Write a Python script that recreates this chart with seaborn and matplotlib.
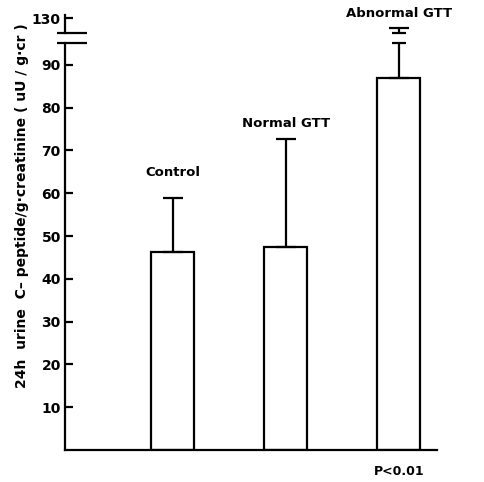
import numpy as np
import pandas as pd
import matplotlib
matplotlib.use("Agg")
import matplotlib.pyplot as plt
import seaborn as sns

# ---- data ----
groups = ["Control", "Normal GTT", "Abnormal GTT"]
means = [46.2, 47.4, 86.8]
err_top = [58.8, 72.6, 127.7]          # upper end of the error bars
lower_ticks = [10, 20, 30, 40, 50, 60, 70, 80, 90]
upper_ticks = [130]
p_text = "P<0.01"
ylabel = "24h  urine  C\u2013 peptide/g\u00b7creatinine ( uU / g\u00b7cr )"

# ---- style ----
sns.set_theme(style="white")
plt.rcParams["font.family"] = ["DejaVu Sans"]
plt.rcParams["font.weight"] = "bold"
LW = 1.6
label_offsets = [14, 7, 6]  # points above the error caps

df = pd.DataFrame({"group": groups, "mean": means, "top": err_top})

fig = plt.figure(figsize=(4.85, 4.82), dpi=100)
W, H = 485.0, 482.0
ax_left, ax_right = 65 / W, 437 / W
ax = fig.add_axes([ax_left, 1 - 450 / H, ax_right - ax_left, (450 - 43.4) / H])
ax_up = fig.add_axes([ax_left, 1 - 33 / H, ax_right - ax_left, (33 - 15) / H])

lo_lim = (0, 95.0)
up_lim = (126.5, 130.7)

for a, lim in ((ax, lo_lim), (ax_up, up_lim)):
    sns.barplot(data=df, x="group", y="mean", order=groups, color="white",
                edgecolor="black", linewidth=LW, width=0.38, errorbar=None,
                saturation=1, ax=a)
    x = np.arange(len(groups))
    a.errorbar(x, df["mean"], yerr=[np.zeros(len(groups)), df["top"] - df["mean"]],
               fmt="none", ecolor="black", elinewidth=LW, capsize=7, capthick=LW,
               zorder=5)
    a.set_ylim(*lim)
    a.set_xlim(-0.95, 2.336)
    a.set_xlabel("")
    a.set_ylabel("")
    a.set_xticks([])
    a.set_facecolor("none")
    for s in ("top", "right"):
        a.spines[s].set_visible(False)
    a.spines["left"].set_linewidth(LW)
    a.spines["left"].set_color("black")
    a.tick_params(axis="y", direction="in", length=6, width=LW, pad=3,
                  labelsize=10, colors="black", left=True)

ax.spines["bottom"].set_linewidth(LW)
ax.spines["bottom"].set_color("black")
ax_up.spines["bottom"].set_visible(False)
ax.set_yticks(lower_ticks)
ax.set_yticklabels([str(t) for t in lower_ticks], fontweight="bold")
ax_up.set_yticks(upper_ticks)
ax_up.set_yticklabels([str(t) for t in upper_ticks], fontweight="bold")

# break marks on the axis
for a, yy in ((ax, 1.0), (ax_up, 0.0)):
    a.plot([-0.022, 0.058], [yy, yy], transform=a.transAxes, color="black",
           lw=LW, clip_on=False, solid_capstyle="butt")

# break caps on error bars crossing the break
for i, (m, t) in enumerate(zip(means, err_top)):
    if t > lo_lim[1]:
        ax.hlines(lo_lim[1], i - 0.062, i + 0.062, color="black", lw=LW, clip_on=False)
        ax_up.hlines(up_lim[0], i - 0.062, i + 0.062, color="black", lw=LW, clip_on=False)

# group labels above error bars
for i, (g, t) in enumerate(zip(groups, err_top)):
    a = ax_up if t > lo_lim[1] else ax
    a.annotate(g, xy=(i, t), xytext=(0, label_offsets[i]), textcoords="offset points",
               ha="center", va="bottom", fontsize=9.5, fontweight="bold",
               color="black", annotation_clip=False)

# p value below the last bar
ax.annotate(p_text, xy=(2, 0), xytext=(0, -11), textcoords="offset points",
            ha="center", va="top", fontsize=9, fontweight="bold", color="black",
            annotation_clip=False)

fig.text(22 / W, 1 - 206 / H, ylabel, rotation=90, ha="center", va="center",
         fontsize=10, fontweight="bold", color="black")

fig.savefig("out.png", dpi=100)
